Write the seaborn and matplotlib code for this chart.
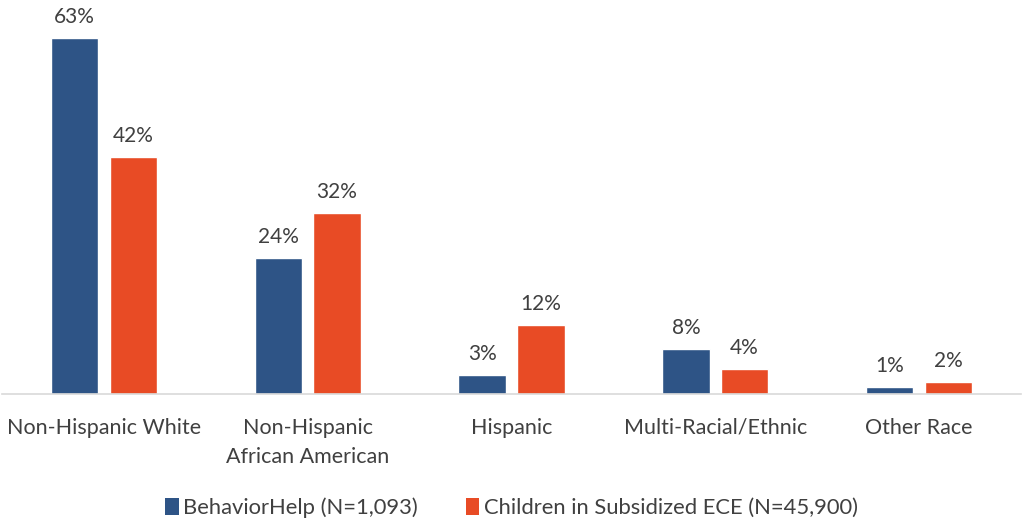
import matplotlib
matplotlib.use("Agg")
import matplotlib.pyplot as plt
import seaborn as sns
import pandas as pd
from matplotlib.patches import Patch

categories = ["Non-Hispanic White", "Non-Hispanic\nAfrican American", "Hispanic",
              "Multi-Racial/Ethnic", "Other Race"]
series = ["BehaviorHelp (N=1,093)", "Children in Subsidized ECE (N=45,900)"]
behaviorhelp = [63, 24, 3.4, 8, 1.2]
subsidized = [42, 32, 12.2, 4.4, 2.1]
behaviorhelp_labels = ["63%", "24%", "3%", "8%", "1%"]
subsidized_labels = ["42%", "32%", "12%", "4%", "2%"]
colors = ["#2E5486", "#E84B25"]

df = pd.DataFrame({
    "category": categories * 2,
    "series": [series[0]] * 5 + [series[1]] * 5,
    "value": behaviorhelp + subsidized,
})

sns.set_theme(style="white")
plt.rcParams['font.family'] = ['Lato', 'DejaVu Sans']
text_color = "#404040"

fig = plt.figure(figsize=(10.23, 5.22), dpi=100)
ax = fig.add_axes([0.002, 1 - 394 / 522, 0.996, 384 / 522])
sns.barplot(data=df, x="category", y="value", hue="series", order=categories,
            hue_order=series, palette=colors, width=0.575, gap=0.19,
            saturation=1, legend=False, ax=ax)

for cont, labs in zip(ax.containers, [behaviorhelp_labels, subsidized_labels]):
    ax.bar_label(cont, labels=labs, padding=8, fontsize=15, color=text_color)

ax.set_ylim(0, 68)
ax.set_xlim(-0.5, 4.5)
ax.set_xlabel("")
ax.set_ylabel("")
ax.set_yticks([])
for s in ["top", "right", "left"]:
    ax.spines[s].set_visible(False)
ax.spines["bottom"].set_color("#D9D9D9")
ax.spines["bottom"].set_linewidth(1.2)
ax.tick_params(axis="x", length=0, pad=17, labelsize=15.5, labelcolor=text_color)
for t in ax.get_xticklabels():
    t.set_linespacing(1.6)

handles = [Patch(facecolor=c, edgecolor="none") for c in colors]
fig.legend(handles, series, loc="center", bbox_to_anchor=(0.5, 1 - 508 / 522),
           ncol=2, frameon=False, fontsize=15.8, handlelength=0.6, handleheight=0.8,
           handletextpad=0.2, columnspacing=2.2, labelcolor=text_color)

fig.savefig("out.png", dpi=100)
